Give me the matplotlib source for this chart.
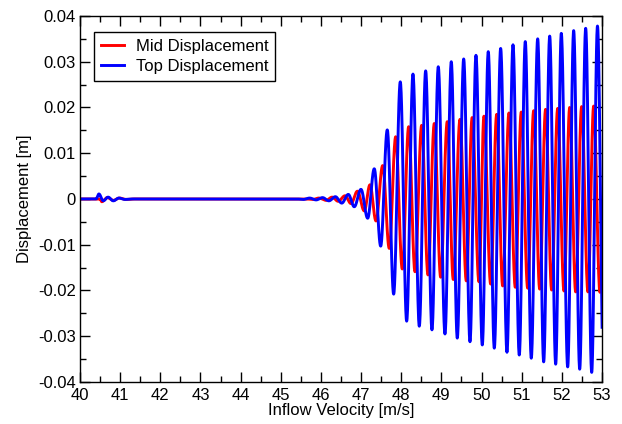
import numpy as np
import matplotlib
matplotlib.use("Agg")
import matplotlib.pyplot as plt
from matplotlib.ticker import MultipleLocator, FuncFormatter

plt.rcParams["font.family"] = ["Liberation Sans", "DejaVu Sans"]

# turning points (inflow velocity, displacement) of each response
mid_x = [40.00, 40.50, 40.54, 40.68, 40.83, 40.98, 41.15, 41.35,
         45.65, 45.80, 45.95, 46.13, 46.28, 46.43, 46.60, 46.75, 46.91,
         47.080, 47.222, 47.372, 47.539, 47.703, 47.862, 48.027, 48.186,
         48.343, 48.510, 48.667, 48.824, 48.983, 49.147, 49.297, 49.464,
         49.621, 49.767, 49.937, 50.061, 50.228, 50.378, 50.527, 50.684,
         50.841, 50.990, 51.150, 51.299, 51.449, 51.596, 51.747, 51.897,
         52.054, 52.196, 52.345, 52.494, 52.651, 52.793, 52.950, 53.100]
mid_y = [0.0, 0.0, -0.0006, 0.0003, -0.0003, 0.0002, -0.0001, 0.0,
         0.0, -0.0001, 0.0002, -0.0003, 0.0004, -0.0005, 0.0007, -0.0010, 0.0017,
         -0.0026, 0.0031, -0.0048, 0.0073, -0.0108, 0.0136, -0.0153, 0.0158,
         -0.0159, 0.0161, -0.0166, 0.0165, -0.0171, 0.0169, -0.0176, 0.0174,
         -0.0179, 0.0178, -0.0181, 0.0181, -0.0186, 0.0185, -0.0190, 0.0188,
         -0.0193, 0.0190, -0.0195, 0.0193, -0.0197, 0.0196, -0.0199, 0.0198,
         -0.0201, 0.0200, -0.0203, 0.0202, -0.0203, 0.0203, -0.0204, 0.0204]

top_x = [40.00, 40.40, 40.47, 40.58, 40.70, 40.83, 40.97, 41.12, 41.30,
         45.40, 45.56, 45.72, 45.88, 46.04, 46.20, 46.36, 46.52,
         46.682, 46.831, 46.998, 47.165, 47.329, 47.489, 47.653, 47.812,
         47.977, 48.136, 48.293, 48.450, 48.609, 48.766, 48.923, 49.090,
         49.247, 49.396, 49.556, 49.713, 49.862, 50.019, 50.168, 50.318,
         50.477, 50.634, 50.784, 50.940, 51.090, 51.239, 51.399, 51.548,
         51.698, 51.847, 51.987, 52.146, 52.295, 52.445, 52.594, 52.744,
         52.888, 53.040]
top_y = [0.0, 0.0, 0.0011, -0.0004, 0.0004, -0.0004, 0.0002, -0.0001, 0.0,
         0.0, -0.0001, 0.0002, -0.0002, 0.0003, -0.0004, 0.0005, -0.0009,
         0.0010, -0.0017, 0.0021, -0.0042, 0.0066, -0.0103, 0.0151, -0.0208,
         0.0256, -0.0267, 0.0273, -0.0278, 0.0280, -0.0286, 0.0289, -0.0295,
         0.0300, -0.0304, 0.0306, -0.0312, 0.0314, -0.0319, 0.0322, -0.0326,
         0.0329, -0.0335, 0.0337, -0.0341, 0.0344, -0.0348, 0.0350, -0.0356,
         0.0356, -0.0361, 0.0362, -0.0367, 0.0368, -0.0372, 0.0373, -0.0379,
         0.0378, -0.0385]


def smooth_through(xs, ys, n=30):
    # half-cosine arcs between consecutive turning points
    out_x, out_y = [xs[0]], [ys[0]]
    for x0, x1, y0, y1 in zip(xs[:-1], xs[1:], ys[:-1], ys[1:]):
        t = np.linspace(0, 1, n)[1:]
        out_x.extend(x0 + (x1 - x0) * t)
        out_y.extend((y0 + y1) / 2 + (y0 - y1) / 2 * np.cos(np.pi * t))
    return np.array(out_x), np.array(out_y)


fig = plt.figure(figsize=(6.22, 4.24), dpi=100)
ax = fig.add_axes([0.1286, 0.0991, 0.8392, 0.8632])

mx, my = smooth_through(mid_x, mid_y)
tx, ty = smooth_through(top_x, top_y)
ax.plot(mx, my, color="#ff0000", lw=2.1, label="Mid Displacement")
ax.plot(tx, ty, color="#0000ff", lw=2.1, label="Top Displacement")

ax.set_xlim(40, 53)
ax.set_ylim(-0.04, 0.04)
ax.xaxis.set_major_locator(MultipleLocator(1))
ax.xaxis.set_minor_locator(MultipleLocator(0.5))
ax.yaxis.set_major_locator(MultipleLocator(0.01))
ax.yaxis.set_minor_locator(MultipleLocator(0.005))
ax.yaxis.set_major_formatter(FuncFormatter(lambda v, p: "0" if abs(v) < 1e-9 else f"{v:.2f}"))
ax.tick_params(which="both", direction="in", top=True, right=True, labelsize=12, width=1.0)
ax.tick_params(which="major", length=7)
ax.tick_params(which="minor", length=4)
ax.tick_params(axis="x", which="major", pad=4)
ax.tick_params(axis="y", which="major", pad=3)
for s in ax.spines.values():
    s.set_linewidth(1.0)

ax.set_xlabel("Inflow Velocity [m/s]", fontsize=12, labelpad=0)
ax.set_ylabel("Displacement [m]", fontsize=12, labelpad=4)

leg = ax.legend(loc="upper left", bbox_to_anchor=(0.027, 0.955), fontsize=12,
                fancybox=False, framealpha=1, edgecolor="black",
                handlelength=1.4, handletextpad=0.7, borderpad=0.4,
                labelspacing=0.3, borderaxespad=0)
leg.get_frame().set_linewidth(1.0)

fig.savefig("out.png", dpi=100)
